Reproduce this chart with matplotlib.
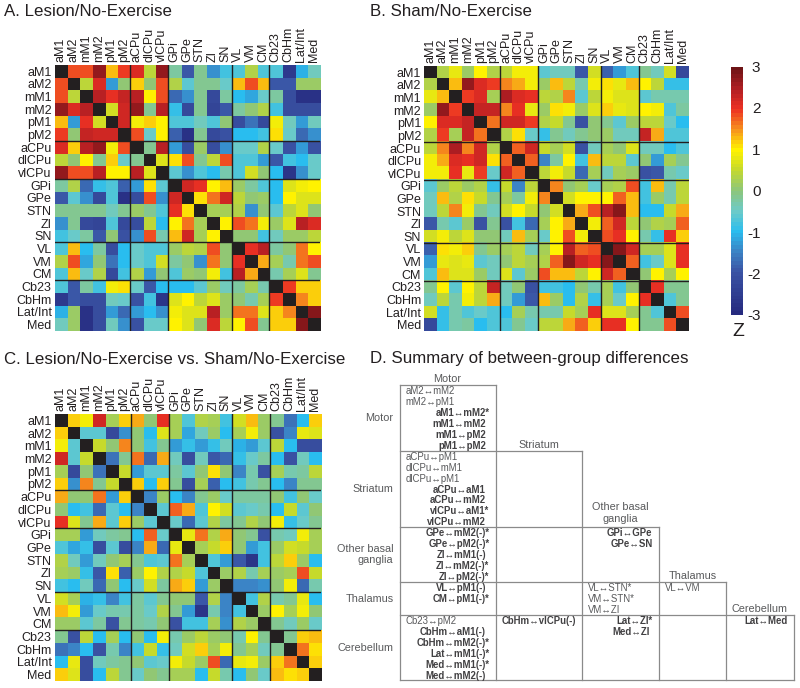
# recreate connectivity figure: three Z-score matrices and a summary table
import numpy as np
import matplotlib
matplotlib.use('Agg')
import matplotlib.pyplot as plt
from matplotlib.colors import LinearSegmentedColormap

plt.rcParams['font.family'] = ['Liberation Sans', 'DejaVu Sans']
plt.rcParams['axes.unicode_minus'] = False

regions = ['aM1', 'aM2', 'mM1', 'mM2', 'pM1', 'pM2', 'aCPu', 'dlCPu', 'vlCPu', 'GPi', 'GPe',
           'STN', 'ZI', 'SN', 'VL', 'VM', 'CM', 'Cb23', 'CbHm', 'Lat/Int', 'Med']
group_ends = [6, 9, 14, 17]

# upper triangles, row by row
lesion = [
    [1.8, 1.8, 2.7, 1.3, 1.9, 2.1, .4, 2.7, -.2, -1.9, -.1, -1.4, -.8, -.7, .3, -.7, -.7, -2.6, -1.1, -.4],
    [.4, 2.1, -1.3, 0, 1.2, 0, 1.8, .3, -.6, -.1, -.1, -.5, 1.3, 1.8, 1.3, -1.9, -1.9, .1, .1],
    [2.4, 2.0, 2.3, 2.4, 1.0, 1.8, -1.7, -1.4, -.1, -2.2, -.2, -1.0, -1.2, -.5, -.2, -2.1, -2.8, -2.8],
    [.6, 2.2, 2.7, -.1, 2.4, -.9, -2.2, -.1, -2.3, -1.9, -.2, 0, .3, -.8, -2.1, -2.1, -2.1],
    [2.2, .9, 1.2, 1.0, -.7, -.7, -.4, -.7, 0, -2.1, -1.6, -2.2, .9, -.4, -1.3, -.4],
    [1.8, -.5, 1.0, -1.8, -2.8, -.1, -2.2, -2.0, -1.0, -1.0, -.8, 1.1, -.5, -1.7, -1.4],
    [-.1, 2.4, -1.3, -2.1, .1, -2.1, -1.4, -.5, -.5, .3, -.5, -2.0, -1.3, -2.0],
    [.7, 1.1, 1.8, -.1, .4, 1.8, -.7, -.7, -1.3, -1.9, -.8, -1.0, -.5],
    [-.6, -1.4, -.7, -1.0, -.3, -.7, .6, 0, -1.0, -2.7, -1.4, -.5],
    [2.2, 2.0, 1.0, 1.3, .1, -.2, -.7, -1.0, .7, .9, 1.0],
    [1.1, 1.6, 2.2, .4, 0, .1, -1.0, 1.0, .7, .7],
    [.2, .2, .3, -1.4, 0, -.6, .4, .7, 0],
    [1.0, 1.8, 1.6, .9, .1, .7, 2.4, 2.1],
    [0, 0, -.8, -.4, .1, .1, .4],
    [2.0, 2.4, -.2, 0, 1.6, 1.0],
    [1.4, .2, -.3, 1.6, 1.8],
    [-.3, .2, .7, -.1],
    [1.9, 1.2, 1.2],
    [1.5, 1.2],
    [2.8],
]
sham = [
    [.3, .8, .1, 1.0, .3, .4, .9, .9, -.6, -.4, -.4, -1.9, .6, -1.8, -1.3, -.7, -.1, -.4, .6, -2.2],
    [1.3, 2.7, 2.1, 1.9, 1.5, 1.4, .9, .1, 1.3, .4, -.3, .9, 1.1, .8, 1.3, 1.0, .4, -.9, -.9],
    [1.9, 2.1, .2, 2.5, 2.1, 2.0, .4, .3, 1.5, -.6, .4, .9, .7, .7, -.6, -.3, -.3, -.3],
    [2.3, 2.3, 1.5, 2.0, .8, .1, 1.1, .9, .1, .7, 1.2, .8, .7, 1.0, .9, -.7, -.2],
    [1.6, 2.2, 2.2, 1.9, .3, .5, -.1, -2.0, 0, -.1, -.6, .1, .4, .4, -.5, -1.0],
    [.3, 1.1, -.5, -.9, -.1, -.4, -.1, 0, .1, -.4, -.4, 2.3, 1.4, -.7, -.7],
    [1.7, 2.2, .5, .2, .6, -2.0, -.4, .2, 0, .7, -.4, -.4, -1.0, -.7],
    [1.7, -1.5, -.2, 1.0, -.8, 1.3, .4, .4, -.6, 0, -1.3, .2, -.1],
    [.4, .9, .5, -1.7, .2, -.4, .2, .1, -2.0, -1.9, -.3, -.5],
    [1.5, 0, .2, -.5, .2, .3, 1.8, -.8, 1.3, -.3, .4],
    [.6, 1.0, 1.0, 1.0, 1.7, 1.3, -.8, .1, -.3, .4],
    [1.4, 1.8, 2.4, 2.8, 1.3, -1.0, -1.0, .5, 1.4],
    [.9, 1.7, 2.2, .4, 0, .3, .2, 1.7],
    [1.8, 2.0, 1.0, -.3, -.9, 2.0, 1.2],
    [2.8, 2.2, .2, .2, .7, 2.0],
    [1.7, -.8, -.5, .7, 2.0],
    [0, 1.0, .2, 1.0],
    [2.0, -.1, -.1],
    [-.7, -.1],
    [1.8],
]
versus = [
    [1.2, .9, 2.2, .2, 1.2, 1.4, 0, 2.0, .2, -.7, .3, .2, -.8, .6, 1.3, .1, -.1, -1.6, -1.0, 1.2],
    [-.6, -.6, -2.2, -1.4, 0, -1.0, .7, .2, -1.2, -.4, .1, -1.0, .2, .9, .1, -2.0, -1.5, .8, .7],
    [.5, 0, 1.5, 0, -.8, -.1, -1.3, -.9, -1.3, -.9, -.4, -1.1, -1.3, -.6, .4, -1.0, -2.1, -2.1],
    [-1.6, -.1, 1.6, -1.7, 1.4, -.4, -2.1, -.4, -1.9, -1.7, -.9, -.5, -.2, -1.0, -2.0, -.4, -1.0],
    [.5, -1.3, -.6, -.6, -.2, -.6, 0, 1.1, 0, -1.5, -.3, -2.0, .2, -.3, -.2, .4],
    [1.2, -1.0, 1.2, -.1, -2.1, .2, -1.8, -1.0, -.8, -.3, -.1, -1.0, -1.5, -.1, -.1],
    [-1.5, .1, -1.0, -1.5, -.1, .1, -.5, -.2, -.2, -.2, 0, -.8, 0, -.5],
    [-.6, 1.7, 1.4, -.7, 1.0, .6, -.6, -.5, -.3, -1.0, .5, -.6, 0],
    [-.5, -1.7, -.6, .3, -.2, -.1, .3, 0, .9, -.9, -.5, -.1],
    [.8, 1.6, .3, 1.4, 0, -.1, -2.0, -.3, -.4, .9, .2],
    [.2, .5, 1.2, 0, -1.3, -.8, .1, .6, .5, .2],
    [-.7, -1.3, -1.9, -2.7, -.8, .4, 1.2, .1, -1.0],
    [.1, .3, -.3, .2, .1, .2, 1.8, .5],
    [-1.5, -1.5, -1.4, 0, .9, -1.7, -.3],
    [-.8, .3, -.3, -.1, .8, -1.0],
    [.1, 1.0, .2, .9, 0],
    [-.1, -.4, .1, -.5],
    [-.1, 1.2, 1.3],
    [1.6, 1.1],
    [1.2],
]

# summary table text: (row of cells) first the plain lines, then the bold ones
col_heads = ['Motor', 'Striatum', 'Other basal\nganglia', 'Thalamus', 'Cerebellum']
row_heads = ['Motor', 'Striatum', 'Other basal\nganglia', 'Thalamus', 'Cerebellum']
cell_text = [
    (0, 0, ['aM2↔mM2', 'mM2↔pM1'], ['aM1↔mM2*', 'mM1↔mM2', 'mM1↔pM2', 'pM1↔pM2']),
    (1, 0, ['aCPu↔pM1', 'dlCPu↔mM1', 'dlCPu↔pM1'], ['aCPu↔aM1', 'aCPu↔mM2', 'vlCPu↔aM1*', 'vlCPu↔mM2']),
    (2, 0, [], ['GPe↔mM2(-)*', 'GPe↔pM2(-)*', 'ZI↔mM1(-)', 'ZI↔mM2(-)*', 'ZI↔pM2(-)*']),
    (2, 2, [], ['GPi↔GPe', 'GPe↔SN']),
    (3, 0, [], ['VL↔pM1(-)', 'CM↔pM1(-)*']),
    (3, 2, ['VL↔STN*', 'VM↔STN*', 'VM↔ZI'], []),
    (3, 3, ['VL↔VM'], []),
    (4, 0, ['Cb23↔pM2'], ['CbHm↔aM1(-)', 'CbHm↔mM2(-)*', 'Lat↔mM1(-)*', 'Med↔mM1(-)*', 'Med↔mM2(-)']),
    (4, 1, [], ['CbHm↔vlCPu(-)']),
    (4, 2, [], ['Lat↔ZI*', 'Med↔ZI']),
    (4, 4, [], ['Lat↔Med']),
]

W, H = 800, 688
fig = plt.figure(figsize=(W / 100, H / 100), dpi=100)

cmap = LinearSegmentedColormap.from_list('z', [
    (0, '#262a7f'), (1 / 6, '#3a53a4'), (1.5 / 6, '#3c82c4'), (2 / 6, '#29bdef'), (2.5 / 6, '#6dcbc8'),
    (3 / 6, '#8cc67c'), (3.5 / 6, '#c4d92e'), (4 / 6, '#fff200'), (4.5 / 6, '#f7941d'),
    (5 / 6, '#ed3123'), (5.5 / 6, '#b01e23'), (1, '#6d1416')], N=64)
cmap.set_bad('#231f20')


def px_axes(x0, y0, x1, y1):
    return fig.add_axes([x0 / W, 1 - y1 / H, (x1 - x0) / W, (y1 - y0) / H])


def to_matrix(upper):
    n = len(regions)
    m = np.full((n, n), np.nan)
    for i, row in enumerate(upper):
        for k, v in enumerate(row):
            m[i, i + 1 + k] = v
            m[i + 1 + k, i] = v
    return m


def heat(upper, box, title, title_x, title_y):
    ax = px_axes(*box)
    im = ax.imshow(to_matrix(upper), cmap=cmap, vmin=-3, vmax=3, aspect='auto', interpolation='nearest')
    ticks = np.arange(len(regions))
    ax.set_xticks(ticks, regions, rotation=90, fontsize=9, color='#231f20')
    ax.set_yticks(ticks, regions, fontsize=9, color='#231f20')
    ax.xaxis.tick_top()
    ax.tick_params(length=0, pad=2)
    for s in ax.spines.values():
        s.set_visible(False)
    for g in group_ends:
        ax.axhline(g - .5, color='#231f20', lw=1)
        ax.axvline(g - .5, color='#231f20', lw=1)
    fig.text(title_x / W, 1 - title_y / H, title, fontsize=12.2, color='#231f20', va='center')
    return im


im = heat(lesion, (54.5, 65, 320, 331), 'A. Lesion/No-Exercise', 4, 11)
heat(sham, (424, 66, 689, 331), 'B. Sham/No-Exercise', 370.5, 11)
heat(versus, (54.5, 414, 321, 681), 'C. Lesion/No-Exercise vs. Sham/No-Exercise', 4, 359)
fig.text(370 / W, 1 - 359 / H, 'D. Summary of between-group differences', fontsize=12.2, color='#231f20', va='center')

# colorbar
cax = px_axes(730.5, 66.5, 743, 315)
cb = fig.colorbar(im, cax=cax)
cb.outline.set_visible(False)
cb.set_ticks(range(-3, 4))
cb.ax.tick_params(length=0, pad=4, labelsize=11, labelcolor='#231f20')
for lab in cb.ax.get_yticklabels():
    lab.set_ha('right')
    lab.set_x(1.95)
fig.text(738 / W, 1 - 332 / H, 'Z', fontsize=14, color='#231f20', ha='center', va='center')

# summary table drawn in page pixels
tb = fig.add_axes([0, 0, 1, 1], facecolor='none')
tb.set_xlim(0, W)
tb.set_ylim(H, 0)
tb.axis('off')
xs = [399.5, 495.5, 582, 658.5, 726, 793.5]
ys = [385, 450.7, 527.3, 582, 615.3, 680.3]
grey = '#8a8a8a'
tb.plot([xs[0], xs[0]], [ys[0], ys[5]], color=grey, lw=.9)
tb.plot([xs[0], xs[1]], [ys[0], ys[0]], color=grey, lw=.9)
tb.plot([xs[0], xs[5]], [ys[5], ys[5]], color=grey, lw=.9)
for i in range(5):
    tb.plot([xs[i + 1], xs[i + 1]], [ys[i], ys[5]], color=grey, lw=.9)
    if i > 0:
        tb.plot([xs[0], xs[i + 1]], [ys[i], ys[i]], color=grey, lw=.9)

head_col = '#58595b'
line_step = 10.88
head_x = [447.5, 538.5, 620.3, 692.3, 759.3]
head_y = [379, 444.7, 513, 576, 609]
for name, x, y in zip(col_heads, head_x, head_y):
    tb.text(x, y, name, fontsize=7.8, color=head_col, ha='center', va='center', linespacing=1.15)
row_y = [418, 489.3, 554.5, 599, 648]
for name, y in zip(row_heads, row_y):
    tb.text(393.5, y, name, fontsize=7.8, color=head_col, ha='right', va='center', linespacing=1.15)

for r, c, plain, bold in cell_text:
    y = ys[r] + 6.2
    for s in plain:
        tb.text(xs[c] + 6, y, s, fontsize=6.9, color=head_col, ha='left', va='center')
        y += line_step
    for s in bold:
        inset = 6 if s.endswith('*') or c > 0 else 9.5
        if s == 'Med↔ZI':
            inset = 9
        tb.text(xs[c + 1] - inset, y, s, fontsize=6.9, color='#414042', fontweight='bold', ha='right', va='center')
        y += line_step

fig.savefig('out.png', dpi=100)
